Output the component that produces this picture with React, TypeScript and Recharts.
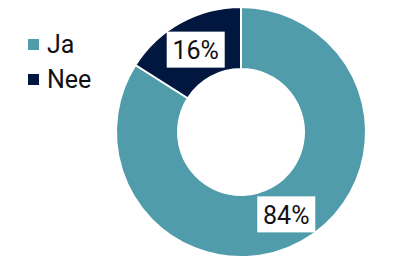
import { PieChart, Pie, Cell } from "recharts";

const categories = ["Ja", "Nee"];
const shares = [84, 16];
const colors = ["#519CAA", "#01173F"];

const data = categories.map((name, i) => ({ name, value: shares[i] }));

const RADIAN = Math.PI / 180;

function renderLabel(props: any) {
  const { cx, cy, midAngle, innerRadius, outerRadius, value } = props;
  const r = (innerRadius + outerRadius) / 2;
  const x = cx + r * Math.cos(-midAngle * RADIAN);
  const y = cy + r * Math.sin(-midAngle * RADIAN);
  const w = 58;
  const h = 36;
  return (
    <g>
      <rect x={x - w / 2} y={y - h / 2} width={w} height={h} fill="#FFFFFF" />
      <text
        x={x}
        y={y + 1}
        textAnchor="middle"
        dominantBaseline="central"
        fontSize={25}
        fill="#111111"
      >
        {`${value}%`}
      </text>
    </g>
  );
}

function LegendBox() {
  return (
    <div style={{ position: "absolute", left: 28, top: 27 }}>
      {categories.map((name, i) => (
        <div
          key={name}
          style={{ display: "flex", alignItems: "center", height: 35 }}
        >
          <span
            style={{
              width: 11,
              height: 11,
              background: colors[i],
              marginRight: 8,
              display: "inline-block",
            }}
          />
          <span style={{ fontSize: 25, color: "#111111" }}>{name}</span>
        </div>
      ))}
    </div>
  );
}

export default function App() {
  return (
    <div
      style={{
        position: "absolute",
        left: 0,
        top: 0,
        width: 394,
        height: 264,
        fontFamily: "Roboto, sans-serif",
        background: "#FFFFFF",
      }}
    >
      <PieChart width={394} height={264} margin={{ top: 0, right: 0, bottom: 0, left: 0 }}>
        <Pie
          data={data}
          dataKey="value"
          nameKey="name"
          cx={241}
          cy={132}
          innerRadius={63}
          outerRadius={125}
          startAngle={90}
          endAngle={-270}
          stroke="#FFFFFF"
          strokeWidth={2}
          label={renderLabel}
          labelLine={false}
          isAnimationActive={false}
        >
          {data.map((d, i) => (
            <Cell key={d.name} fill={colors[i]} />
          ))}
        </Pie>
      </PieChart>
      <LegendBox />
    </div>
  );
}
